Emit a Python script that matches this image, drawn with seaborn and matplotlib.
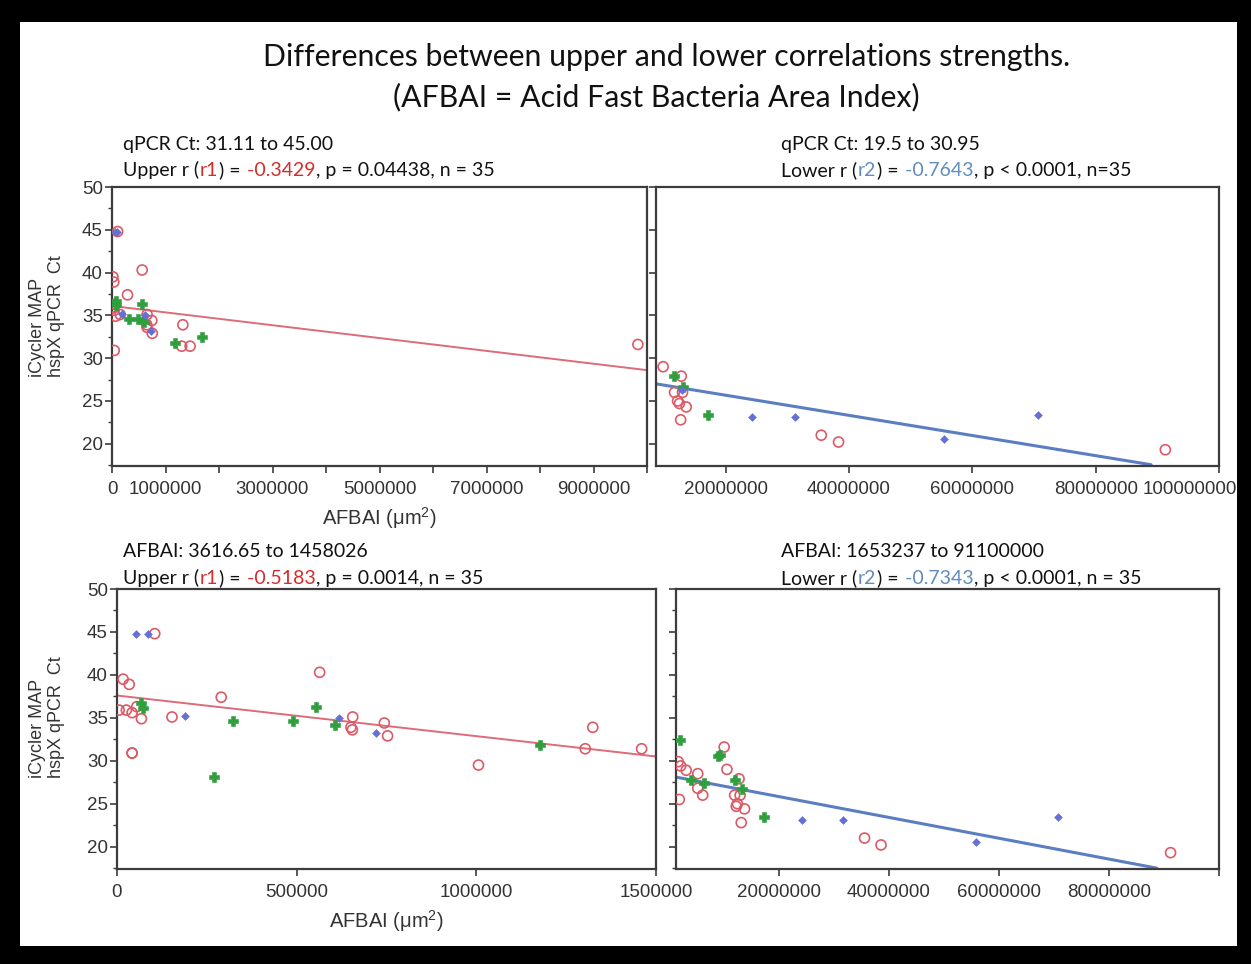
import matplotlib
matplotlib.use('Agg')
import matplotlib.pyplot as plt
import matplotlib.patches as patches
import matplotlib.transforms as mtransforms
from matplotlib.ticker import AutoMinorLocator, NullLocator
import numpy as np
import pandas as pd
import seaborn as sns

# ---- data ----
# groups: r = red open circle, g = green plus, b = blue diamond
# top left: qPCR Ct 31.11 to 45.00
tl_x = [105000, 17000, 34000, 6000, 26000, 42000, 55000, 68000, 42000, 153000,
        290000, 564000, 656000, 651000, 655000, 744000, 753000, 1303000, 1324000,
        1460000, 9830000,
        68000, 72000, 322000, 490000, 553000, 606000, 1178000, 1690000,
        53000, 85000, 190000, 617000, 720000]
tl_y = [44.8, 39.5, 38.9, 35.9, 35.9, 35.6, 36.3, 34.9, 30.9, 35.1,
        37.4, 40.3, 35.1, 33.9, 33.6, 34.4, 32.9, 31.4, 33.9,
        31.4, 31.6,
        36.7, 36.2, 34.6, 34.6, 36.3, 34.2, 31.8, 32.5,
        44.8, 44.8, 35.2, 35.0, 33.2]
tl_grp = ['r'] * 21 + ['g'] * 8 + ['b'] * 5
tl_fit_x = [0, 10000000]
tl_fit_y = [36.1, 28.6]

# top right: qPCR Ct 19.5 to 30.95
tr_x = [9850000, 12800000, 11700000, 13000000, 12200000, 12500000, 13600000,
        12700000, 35500000, 38300000, 91300000,
        11700000, 13000000, 17100000,
        12900000, 24300000, 31300000, 55400000, 70600000]
tr_y = [29.0, 27.9, 26.0, 26.0, 25.0, 24.7, 24.3,
        22.8, 21.0, 20.2, 19.3,
        27.9, 26.6, 23.4,
        26.3, 23.1, 23.1, 20.5, 23.4]
tr_grp = ['r'] * 11 + ['g'] * 3 + ['b'] * 5
tr_fit_x = [8700000, 89000000]
tr_fit_y = [27.0, 17.55]

# bottom left: AFBAI 3616.65 to 1458026
bl_x = tl_x[:20] + [42000, 1006000] + [68000, 72000, 270000, 322000, 490000,
                                        553000, 606000, 1178000] + tl_x[29:]
bl_y = tl_y[:20] + [30.9, 29.5] + [36.7, 36.2, 28.1, 34.6, 34.6,
                                   36.3, 34.2, 31.8] + tl_y[29:]
bl_grp = ['r'] * 22 + ['g'] * 8 + ['b'] * 5
bl_fit_x = [0, 1500000]
bl_fit_y = [37.6, 30.5]

# bottom right: AFBAI 1653237 to 91100000
br_x = [1740000, 2200000, 3200000, 1950000, 5300000, 5300000, 6200000, 10100000,
        10600000, 12800000, 12000000, 13000000, 12500000, 12300000, 13800000,
        13200000, 35600000, 38600000, 91200000,
        2000000, 9060000, 9300000, 4070000, 6500000, 12100000, 13400000, 17300000,
        24200000, 31700000, 55800000, 70700000]
br_y = [29.9, 29.4, 28.9, 25.5, 28.5, 26.8, 26.0, 31.6,
        29.0, 27.9, 26.0, 26.0, 25.0, 24.7, 24.4,
        22.8, 21.0, 20.2, 19.3,
        32.4, 30.5, 30.7, 27.8, 27.4, 27.8, 26.7, 23.4,
        23.1, 23.1, 20.5, 23.4]
br_grp = ['r'] * 19 + ['g'] * 8 + ['b'] * 4
br_fit_x = [1350000, 88700000]
br_fit_y = [28.1, 17.5]

tl_xticks = [0, 1000000, 2000000, 3000000, 4000000, 5000000, 6000000, 7000000,
             8000000, 9000000, 10000000]
tl_xlabels = ['0', '1000000', '', '3000000', '', '5000000', '', '7000000', '',
              '9000000', '']
tr_xticks = [20000000, 40000000, 60000000, 80000000, 100000000]
tr_xlabels = ['20000000', '40000000', '60000000', '80000000', '100000000']
bl_xticks = [0, 500000, 1000000, 1500000]
bl_xlabels = ['0', '500000', '1000000', '1500000']
br_xticks = [20000000, 40000000, 60000000, 80000000, 100000000]
br_xlabels = ['20000000', '40000000', '60000000', '80000000', '']
yticks = [20, 25, 30, 35, 40, 45, 50]

title1 = 'Differences between upper and lower correlations strengths.'
title2 = '(AFBAI = Acid Fast Bacteria Area Index)'
tl_head = 'qPCR Ct: 31.11 to 45.00'
tr_head = 'qPCR Ct: 19.5 to 30.95'
bl_head = 'AFBAI: 3616.65 to 1458026'
br_head = 'AFBAI: 1653237 to 91100000'
tl_r, tl_rest = '-0.3429', ', p = 0.04438, n = 35'
tr_r, tr_rest = '-0.7643', ', p < 0.0001, n=35'
bl_r, bl_rest = '-0.5183', ', p = 0.0014, n = 35'
br_r, br_rest = '-0.7343', ', p < 0.0001, n = 35'

# ---- style ----
RED = '#dc5a66'
GREEN = '#2f9e3c'
BLUE = '#6470d6'
RLINE = '#dd6b78'
BLINE = '#5b7ec2'
TXT_RED = '#d62b2b'
TXT_BLUE = '#5f8cbf'
W, H = 1251, 964
HFONT = 'Lato'
AFONT = 'Liberation Sans'

sns.set_theme(style='ticks')
plt.rcParams['font.family'] = [AFONT, 'DejaVu Sans']
plt.rcParams['mathtext.fontset'] = 'custom'
plt.rcParams['mathtext.rm'] = AFONT

fig = plt.figure(figsize=(W / 100, H / 100), dpi=100, facecolor='black')
fig.patches.append(patches.Rectangle((20 / W, 1 - 946 / H), 1217 / W, 924 / H,
                                     transform=fig.transFigure, facecolor='white',
                                     edgecolor='none', zorder=-5))


def px_box(l, t, r, b):
    return [l / W, 1 - b / H, (r - l) / W, (b - t) / H]


def panel(box, xs, ys, grps, fx, fy, fit_color, xlim, xticks, xlabels, ylabels, minor_y):
    ax = fig.add_axes(box)
    df = pd.DataFrame({'x': xs, 'y': ys, 'grp': grps})
    sns.lineplot(x=fx, y=fy, ax=ax, color=fit_color,
                 lw=1.4 if fit_color == RLINE else 2.2, zorder=2)
    sns.scatterplot(data=df[df.grp == 'r'], x='x', y='y', ax=ax, marker='o', s=52,
                    facecolors='none', edgecolor=RED, linewidth=1.2, zorder=3)
    sns.scatterplot(data=df[df.grp == 'g'], x='x', y='y', ax=ax, marker='P', s=60,
                    color=GREEN, edgecolor=GREEN, linewidth=0.4, zorder=4)
    sns.scatterplot(data=df[df.grp == 'b'], x='x', y='y', ax=ax, marker='D', s=16,
                    color=BLUE, edgecolor=BLUE, linewidth=0.4, zorder=4)
    ax.set_xlim(*xlim)
    ax.set_ylim(17.4, 50)
    ax.set_xticks(xticks)
    ax.set_xticklabels(xlabels)
    ax.set_yticks(yticks)
    if ylabels:
        ax.set_yticklabels([str(v) for v in yticks])
    else:
        ax.set_yticklabels([])
    if minor_y:
        ax.yaxis.set_minor_locator(AutoMinorLocator(2))
    else:
        ax.yaxis.set_minor_locator(NullLocator())
    ax.xaxis.set_minor_locator(NullLocator())
    ax.set_xlabel('')
    ax.set_ylabel('')
    ax.set_facecolor('white')
    for sp in ax.spines.values():
        sp.set_visible(True)
        sp.set_color('#3c3c3c')
        sp.set_linewidth(1.6)
    ax.tick_params(axis='x', direction='out', length=5, width=1.2, pad=6,
                   colors='#3c3c3c', labelsize=13.5, labelcolor='#333333')
    ax.tick_params(axis='y', which='major', direction='out', length=5, width=1.2,
                   pad=1.5, colors='#3c3c3c', labelsize=13.5, labelcolor='#333333')
    ax.tick_params(axis='y', which='minor', direction='out', length=3, width=1.0,
                   colors='#3c3c3c')
    ax.grid(False)
    return ax


ax_tl = panel(px_box(112, 187, 647, 466), tl_x, tl_y, tl_grp, tl_fit_x, tl_fit_y, RLINE,
              (0, 10000000), tl_xticks, tl_xlabels, True, True)
ax_tr = panel(px_box(656, 187, 1219, 466), tr_x, tr_y, tr_grp, tr_fit_x, tr_fit_y, BLINE,
              (8700000, 100000000), tr_xticks, tr_xlabels, False, False)
ax_bl = panel(px_box(117, 589, 656, 869), bl_x, bl_y, bl_grp, bl_fit_x, bl_fit_y, RLINE,
              (0, 1500000), bl_xticks, bl_xlabels, True, True)
ax_br = panel(px_box(676, 589, 1219, 869), br_x, br_y, br_grp, br_fit_x, br_fit_y, BLINE,
              (1350000, 100000000), br_xticks, br_xlabels, False, True)

# last tick label of the top right panel sits inside the frame, as in the original
last = ax_tr.get_xticklabels()[-1]
last.set_horizontalalignment('right')
last.set_transform(last.get_transform() +
                   mtransforms.ScaledTranslation(18 / 100, 0, fig.dpi_scale_trans))

for ax in (ax_tl, ax_bl):
    ax.set_xlabel('AFBAI (μm$^{2}$)', fontsize=14.5, color='#333333', labelpad=5)

for yc in (316, 717):
    fig.text(47 / W, 1 - yc / H, 'iCycler MAP\nhspX qPCR  Ct', rotation=90,
             ha='center', va='center', multialignment='left', fontsize=13,
             color='#333333', linespacing=1.1)

# titles
fig.text(667 / W, 1 - 57 / H, title1, ha='center', va='center', fontsize=21.8,
         family=HFONT, color='#111111')
fig.text(656 / W, 1 - 97 / H, title2, ha='center', va='center', fontsize=21.8,
         family=HFONT, color='#111111')

renderer = fig.canvas.get_renderer()


def rich_line(x_px, y_px, pieces, size=14):
    x = x_px / W
    for s, c in pieces:
        t = fig.text(x, 1 - y_px / H, s, color=c, fontsize=size, family=HFONT,
                     va='baseline', ha='left')
        x += (t.get_window_extent(renderer).width + 0.8) / W


K = '#111111'
heads = [
    (123, 150, 176, tl_head, 'Upper r (', 'r1', tl_r, tl_rest, TXT_RED),
    (781, 150, 176, tr_head, 'Lower r (', 'r2', tr_r, tr_rest, TXT_BLUE),
    (123, 557, 584, bl_head, 'Upper r (', 'r1', bl_r, bl_rest, TXT_RED),
    (781, 557, 584, br_head, 'Lower r (', 'r2', br_r, br_rest, TXT_BLUE),
]
for x0, y1, y2, head, lead, rn, rv, rest, col in heads:
    rich_line(x0, y1, [(head, K)])
    rich_line(x0, y2, [(lead, K), (rn, col), (') =', K), (' ' + rv, col), (rest, K)])

fig.savefig('out.png', dpi=100, facecolor='black')
